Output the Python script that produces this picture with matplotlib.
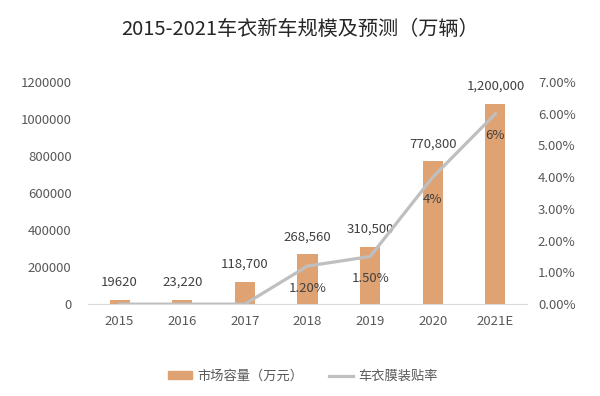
import matplotlib
matplotlib.use('Agg')
import matplotlib.pyplot as plt
from matplotlib.ticker import FuncFormatter
from matplotlib.patches import Patch

plt.rcParams['font.family'] = ['Noto Sans CJK SC', 'DejaVu Sans']

# 数据
years = ['2015', '2016', '2017', '2018', '2019', '2020', '2021E']
market_size = [19620, 23220, 118700, 268560, 310500, 770800, 1080000]  # 柱高
size_labels = ['19620', '23,220', '118,700', '268,560', '310,500', '770,800', '1,200,000']
film_rate = [0, 0, 0, 1.2, 1.5, 4.0, 6.0]  # %
rate_labels = ['', '', '', '1.20%', '1.50%', '4%', '6%']

bar_color = '#DFA272'
line_color = '#BFBFBF'
text_color = '#595959'

fig = plt.figure(figsize=(6, 3.96), dpi=100)
ax = fig.add_axes([0.147, 0.232, 0.731, 0.561])
ax2 = ax.twinx()

x = list(range(len(years)))
bars = ax.bar(x, market_size, width=0.32, color=bar_color, zorder=2)
line, = ax2.plot(x, film_rate, color=line_color, linewidth=2.3, label='车衣膜装贴率', zorder=3)

ax.set_xlim(-0.5, len(years) - 0.5)
ax.set_ylim(0, 1200000)
ax.set_yticks(range(0, 1200001, 200000))
ax.yaxis.set_major_formatter(FuncFormatter(lambda v, p: f'{int(v)}'))
ax2.set_ylim(0, 7)
ax2.set_yticks(range(0, 8))
ax2.yaxis.set_major_formatter(FuncFormatter(lambda v, p: f'{v:.2f}%'))

ax.set_xticks(x)
ax.set_xticklabels(years)

for a in (ax, ax2):
    for s in a.spines.values():
        s.set_visible(False)
    a.tick_params(length=0, labelsize=9.5, colors=text_color)
ax.spines['bottom'].set_visible(True)
ax.spines['bottom'].set_color('#D9D9D9')
ax.tick_params(axis='x', pad=8)
ax.tick_params(axis='y', pad=12)
ax2.tick_params(axis='y', pad=8)

# 柱标签
for xi, v, lab in zip(x, market_size, size_labels):
    ax.annotate(lab, (xi, v), xytext=(0, 8), textcoords='offset points',
                ha='center', va='bottom', fontsize=9.5, color='#404040')

# 折线标签
for xi, v, lab in zip(x, film_rate, rate_labels):
    if lab:
        ax2.annotate(lab, (xi, v), xytext=(0, -16), textcoords='offset points',
                     ha='center', va='center', fontsize=9.5, color='#404040')

fig.text(0.5, 0.925, '2015-2021车衣新车规模及预测（万辆）', ha='center', va='center',
         fontsize=14.5, color='#262626')

bar_handle = Patch(color=bar_color, label='市场容量（万元）')
fig.legend(handles=[bar_handle, line], loc='center', bbox_to_anchor=(0.505, 0.05), ncol=2,
           frameon=False, fontsize=9.5, handlelength=1.8, handleheight=0.45,
           handletextpad=0.4, columnspacing=2.0, labelcolor=text_color)

fig.savefig('out.png', dpi=100)
